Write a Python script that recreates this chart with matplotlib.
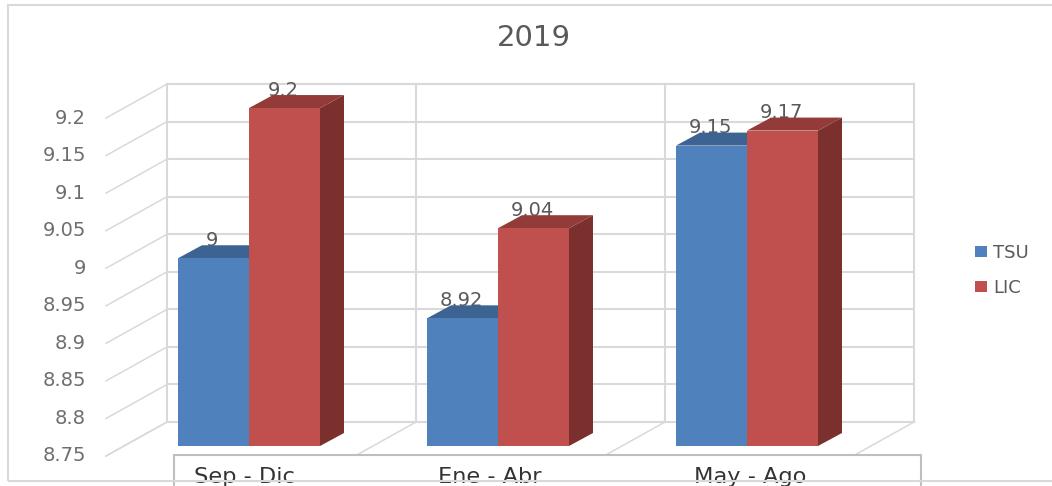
import numpy as np
import matplotlib
matplotlib.use('Agg')
import matplotlib.pyplot as plt
from matplotlib.patches import Polygon, Rectangle

periods = ['Sep - Dic', 'Ene - Abr', 'May - Ago']
tsu = [9, 8.92, 9.15]
lic = [9.2, 9.04, 9.17]
ticks = [8.75, 8.8, 8.85, 8.9, 8.95, 9, 9.05, 9.1, 9.15, 9.2]
series_names = ['TSU', 'LIC']

W, H = 1052, 486
PX_X = 249.0     # pixels per category
PX_Y = 751.0     # pixels per unit of the value axis
BASE = ticks[0]
TOP = ticks[-1]

# 3D look, offsets in data units
bar_w = 71 / PX_X
depth_x, depth_y = 24 / PX_X, 13 / PX_Y
back_x, back_y = 42.5 / PX_X, 24 / PX_Y
front_x, front_y = -18.5 / PX_X, -10 / PX_Y

GRID = '#d9d9d9'
TEXT = '#595959'

fig = plt.figure(figsize=(W / 100, H / 100), dpi=100)
ax = fig.add_axes([0, 0, 1, 1])
ax.set_xlim(-249 / PX_X, (W - 249) / PX_X)
ax.set_ylim(BASE - (H - 446) / PX_Y, BASE + 446 / PX_Y)
ax.axis('off')

# outer frame of the chart
fig.add_artist(Rectangle((8 / W, 1 - 481 / H), 1.1, 476 / H, transform=fig.transFigure,
                         fill=False, ec=GRID, lw=1.5))

# walls and gridlines
xs = np.arange(len(periods) + 1) - 0.5
for t in ticks:
    ax.plot([xs[0] + back_x, xs[-1] + back_x], [t + back_y, t + back_y], color=GRID, lw=1.5, zorder=1)
    ax.plot([xs[0] + front_x, xs[0] + back_x], [t + front_y, t + back_y], color=GRID, lw=1.1, zorder=1)
    ax.text(-0.5 + front_x - 20 / PX_X, t + front_y, '%g' % t, ha='right', va='center',
            fontsize=14, color='#6e6e6e')
for x in xs:
    ax.plot([x + back_x, x + back_x], [BASE + back_y, TOP + back_y], color=GRID, lw=1.5, zorder=1)
    ax.plot([x + front_x, x + back_x], [BASE + front_y, BASE + back_y], color=GRID, lw=1.1, zorder=1)


def draw_bars(pos, values, front, top, side, z, name):
    for p, v in zip(pos, values):
        # labels sit behind the bars, the top faces cut them off
        ax.text(p + bar_w / 2 - 1.5 / PX_X, v + 18 / PX_Y, '%g' % v, ha='center', va='center',
                fontsize=14, color=TEXT, zorder=2)
        x0, x1 = p, p + bar_w
        ax.add_patch(Polygon([(x1, BASE), (x1 + depth_x, BASE + depth_y),
                              (x1 + depth_x, v + depth_y), (x1, v)], color=side, lw=0, zorder=z))
        ax.add_patch(Polygon([(x0, v), (x0 + depth_x, v + depth_y),
                              (x1 + depth_x, v + depth_y), (x1, v)], color=top, lw=0, zorder=z))
    return ax.bar(pos, np.array(values) - BASE, bar_w, bottom=BASE, align='edge',
                  color=front, zorder=z + 0.5, label=name)


pos = np.arange(len(periods))
b1 = draw_bars(pos - bar_w, tsu, '#4f81bd', '#3d6392', '#3d6392', 3, series_names[0])
b2 = draw_bars(pos, lic, '#c0504d', '#933b39', '#7b302e', 4, series_names[1])

# box over the category labels
ax.add_patch(Rectangle((-75 / PX_X, BASE - 9 / PX_Y), 747 / PX_X, -60 / PX_Y,
                       fc='white', ec='#bfbfbf', lw=1.5, zorder=6))
label_shift = [-5, -8.5, 3]
for p, name, s in zip(pos, periods, label_shift):
    ax.text(p + s / PX_X, BASE - 31 / PX_Y, name, ha='center', va='center', fontsize=16.2,
            color='#333333', zorder=7)

ax.text(284.5 / PX_X, BASE + (446 - 38) / PX_Y, '2019', ha='center', va='center',
        fontsize=21, color=TEXT)

leg = ax.legend(handles=[b1, b2], loc='center left', bbox_to_anchor=(959 / W, 1 - 270.5 / H),
                frameon=False, fontsize=13, labelcolor=TEXT, handlelength=0.67,
                handleheight=0.55, handletextpad=0.33, labelspacing=0.95)

fig.savefig('out.png', dpi=100)
